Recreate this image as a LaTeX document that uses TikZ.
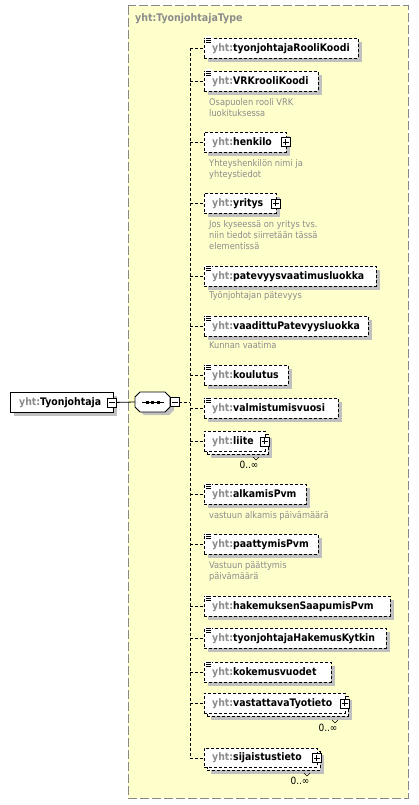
\documentclass[tikz,border=0pt]{standalone}
\usepackage{fontspec}
\setmainfont{DejaVuSansCondensed.ttf}[BoldFont=DejaVuSansCondensed-Bold.ttf]
\usetikzlibrary{shadows}
\definecolor{ybg}{HTML}{FFFFCC}
\definecolor{ygray}{HTML}{8C8C8C}
\definecolor{docgray}{HTML}{8C8C8C}
\definecolor{shgray}{HTML}{C0C0C0}
\definecolor{frame}{HTML}{888888}
\tikzset{
  ebox/.style={draw=black, fill=white, line width=0.8pt, dash pattern=on 3pt off 2pt, inner sep=0pt},
  eshadow/.style={drop shadow={shadow xshift=4pt, shadow yshift=-4pt, fill=shgray, opacity=1}},
  etext/.style={font=\fontsize{10.4}{12}\selectfont\bfseries, inner sep=0pt, text=black},
  doctext/.style={font=\fontsize{9.2}{11}\selectfont, inner sep=0pt, text=docgray, align=left},
  conn/.style={line width=0.8pt, dash pattern=on 3pt off 2pt},
  pmbox/.style={draw=black, fill=white, line width=0.8pt, minimum size=9pt, inner sep=0pt},
  occ/.style={font=\fontsize{10}{11}\selectfont, inner sep=0pt},
}
% #1 name, #2 left, #3 top, #4 right, #5 bottom, #6 label
\newcommand\ElBox[6]{%
  \node[ebox, eshadow, minimum width=#4-#2, minimum height=#5-#3, anchor=north west] (#1) at (#2,#3) {};
  \node[etext, anchor=west] (#1t) at ([xshift=8pt]#1.west) {\textcolor{ygray}{yht:}#6};
}
\newcommand\ElMulti[6]{%
  \node[ebox, eshadow, minimum width=#4-#2, minimum height=#5-#3, anchor=north west] (#1b) at (#2+3,#3+3) {};
  \node[ebox, minimum width=#4-#2, minimum height=#5-#3, anchor=north west] (#1) at (#2,#3) {};
  \node[etext, anchor=west] (#1t) at ([xshift=8pt]#1.west) {\textcolor{ygray}{yht:}#6};
}
\newcommand\DocIcon[1]{%
  \fill[white] ([xshift=1pt,yshift=1.5pt]#1.north west) rectangle ([xshift=8pt,yshift=-4.5pt]#1.north west);
  \foreach \dy in {0,2,4} \draw[line width=0.7pt] ([xshift=2pt,yshift=-\dy pt]#1.north west) -- ++(5,0);
}
\newcommand\PlusIcon[1]{%
  \node[pmbox] (#1p) at ([xshift=-1pt]#1.east) {};
  \draw[line width=0.7pt] ([xshift=-3pt]#1p.center) -- ([xshift=3pt]#1p.center)
                         ([yshift=-3pt]#1p.center) -- ([yshift=3pt]#1p.center);
}
\newcommand\Occ[3]{% name, x, y
  \node[occ] (#1o) at (#2,#3) {0..∞};
  \draw[line width=0.6pt] ([xshift=4pt,yshift=8pt]#1o.center) -- ++(3,3) -- ++(3,-3);
}
\begin{document}
\begin{tikzpicture}[x=1pt,y=-1pt]
\useasboundingbox (0,0) rectangle (419,805);
% type frame
\draw[frame, fill=ybg, line width=1pt, dash pattern=on 9pt off 3pt] (128,6) rectangle (408,798);
\node[font=\fontsize{10.5}{12}\selectfont\bfseries, text=ygray, anchor=west, inner sep=0pt] (title) at (135,19) {yht:TyonjohtajaType};

% elements
\ElBox{e1}{204}{38}{358}{58}{tyonjohtajaRooliKoodi}
\ElBox{e2}{204}{71}{318}{91}{VRKrooliKoodi}
\ElBox{e3}{204}{132}{286}{152}{henkilo}
\ElBox{e4}{204}{193}{276}{213}{yritys}
\ElBox{e5}{204}{266}{376}{286}{patevyysvaatimusluokka}
\ElBox{e6}{204}{316}{368}{336}{vaadittuPatevyysluokka}
\ElBox{e7}{204}{365}{288}{385}{koulutus}
\ElBox{e8}{204}{398}{338}{418}{valmistumisvuosi}
\ElMulti{e9}{204}{431}{265}{451}{liite}
\ElBox{e10}{204}{484}{306}{504}{alkamisPvm}
\ElBox{e11}{204}{534}{318}{554}{paattymisPvm}
\ElBox{e12}{204}{596}{390}{616}{hakemuksenSaapumisPvm}
\ElBox{e13}{204}{628}{386}{648}{tyonjohtajaHakemusKytkin}
\ElBox{e14}{204}{662}{331}{682}{kokemusvuodet}
\ElMulti{e15}{204}{693}{345}{713}{vastattavaTyotieto}
\ElMulti{e16}{204}{748}{317}{767}{sijaistustieto}

\foreach \e in {e1,e2,e5,e6,e7,e8,e10,e11,e12,e13,e14} {\DocIcon{\e}}
\foreach \e in {e3,e4,e9,e15,e16} {\PlusIcon{\e}}

\Occ{e9}{249}{465}
\Occ{e15}{328}{728}
\Occ{e16}{300}{781}

% documentation
\node[doctext, anchor=north west] (d2) at (209,98) {Osapuolen rooli VRK\\luokituksessa};
\node[doctext, anchor=north west] (d3) at (209,159) {Yhteyshenkilön nimi ja\\yhteystiedot};
\node[doctext, anchor=north west] (d4) at (209,220) {Jos kyseessä on yritys tvs.\\niin tiedot siirretään tässä\\elementissä};
\node[doctext, anchor=north west] (d5) at (209,291) {Työnjohtajan pätevyys};
\node[doctext, anchor=north west] (d6) at (209,341) {Kunnan vaatima};
\node[doctext, anchor=north west] (d10) at (209,511) {vastuun alkamis päivämäärä};
\node[doctext, anchor=north west] (d11) at (209,561) {Vastuun päättymis\\päivämäärä};

% spine
\foreach \i in {1,...,16} {\coordinate (s\i) at (190,0 |- e\i.west);}
\coordinate (sc) at (190,402);
\draw[conn] (s1) -- (s16);
\foreach \i in {1,...,16} {\draw[conn] (s\i) -- (e\i.west);}

% root element
\node[draw=black, fill=white, line width=0.8pt, minimum width=103pt, minimum height=20pt, anchor=north west,
      drop shadow={shadow xshift=4pt, shadow yshift=-4pt, fill=shgray, opacity=1}] (root) at (10,392) {};
\node[etext, anchor=west] (roott) at ([xshift=9pt]root.west) {\textcolor{ygray}{yht:}Tyonjohtaja};
\node[pmbox] (rootm) at ([xshift=-1.5pt]root.east) {};
\draw[line width=0.7pt] ([xshift=-3pt]rootm.center) -- ([xshift=3pt]rootm.center);

% sequence compositor
\fill[shgray] (144,395) -- (169,395) -- (174,400) -- (174,410) -- (169,415) -- (144,415) -- (139,410) -- (139,400) -- cycle;
\draw[line width=0.8pt, fill=white] (140,392) -- (165,392) -- (170,397) -- (170,407) -- (165,412) -- (140,412) -- (135,407) -- (135,397) -- cycle;
\coordinate (seqw) at (135,402);
\draw[line width=0.8pt] (142,402) -- (164,402);
\foreach \x in {147,152.5,158} \fill (\x-1.5,400.5) rectangle (\x+1.5,403.5);
\node[pmbox] (seqm) at (174.5,402) {};
\draw[line width=0.7pt] ([xshift=-3pt]seqm.center) -- ([xshift=3pt]seqm.center);
\draw[line width=0.8pt] (rootm.east) -- (seqw);
\draw[conn] (seqm.east) -- (sc);
\end{tikzpicture}
\end{document}
